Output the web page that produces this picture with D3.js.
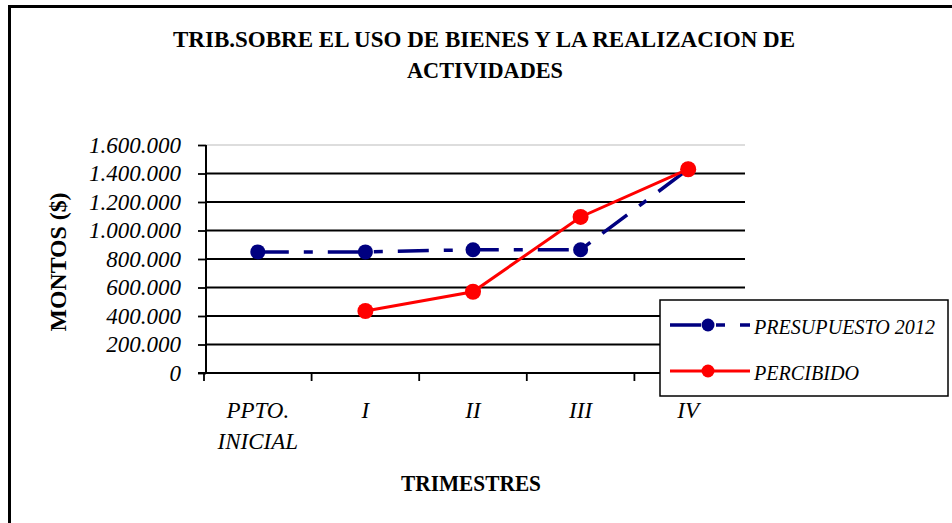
<!DOCTYPE html>
<html>
<head>
<meta charset="utf-8">
<style>
  body { margin: 0; background: #fff; }
  text { font-family: "Liberation Serif", "Times New Roman", serif; }
</style>
</head>
<body>
<svg width="952" height="523" id="chart"></svg>
<script src="https://cdn.jsdelivr.net/npm/d3@7"></script>
<script>
// data
var categories = ["PPTO. INICIAL", "I", "II", "III", "IV"];
var catLines = [["PPTO.", "INICIAL"], ["I"], ["II"], ["III"], ["IV"]];
var presupuesto = [850000, 850000, 865000, 865000, 1430000];
var percibido = [null, 435000, 570000, 1095000, 1430000];
var yTicks = [0, 200000, 400000, 600000, 800000, 1000000, 1200000, 1400000, 1600000];
var seriesNames = ["PRESUPUESTO 2012", "PERCIBIDO"];

var svg = d3.select("#chart");

// outer frame (right / bottom edges run off the picture)
svg.append("rect")
  .attr("x", 9.5).attr("y", 6.5)
  .attr("width", 960).attr("height", 540)
  .attr("fill", "none").attr("stroke", "#000").attr("stroke-width", 3);

var x = d3.scaleBand().domain(categories).range([204, 742]);
var y = d3.scaleLinear().domain([0, 1600000]).range([373, 145]);

// title
svg.append("text")
  .attr("x", 484).attr("y", 47)
  .attr("text-anchor", "middle")
  .style("font-size", "24px").style("font-weight", "bold")
  .attr("textLength", 622).attr("lengthAdjust", "spacingAndGlyphs")
  .text("TRIB.SOBRE EL USO DE BIENES Y LA REALIZACION DE");
svg.append("text")
  .attr("x", 485).attr("y", 78)
  .attr("text-anchor", "middle")
  .style("font-size", "24px").style("font-weight", "bold")
  .attr("textLength", 156).attr("lengthAdjust", "spacingAndGlyphs")
  .text("ACTIVIDADES");

// gridlines
svg.append("g")
  .selectAll("line")
  .data(yTicks)
  .enter().append("line")
  .attr("x1", 206).attr("x2", 745)
  .attr("y1", function(d) { return y(d); })
  .attr("y2", function(d) { return y(d); })
  .attr("stroke", function(d) { return d == 1600000 ? "#bbb" : "#000"; })
  .attr("stroke-width", function(d) { return d == 1600000 ? 1 : 1.8; });

// y axis
var yAxis = svg.append("g")
  .attr("transform", "translate(206,0)")
  .call(d3.axisLeft(y).tickValues(yTicks).tickSize(8).tickPadding(17)
    .tickFormat(function(d) { return d3.format(",")(d).replace(/,/g, "."); }));
yAxis.select(".domain").attr("stroke-width", 2).attr("d", "M0,145V373");
yAxis.selectAll(".tick line").attr("stroke-width", 1.8);
yAxis.selectAll("text")
  .style("font-family", "'Liberation Serif', serif")
  .style("font-size", "23px").style("font-style", "italic")
  .attr("fill", "#000");

// x axis
var xAxis = svg.append("g")
  .attr("transform", "translate(0,373)");
xAxis.append("line")
  .attr("x1", 198).attr("x2", 745).attr("y1", 0).attr("y2", 0)
  .attr("stroke", "#000").attr("stroke-width", 2);
xAxis.selectAll(".xt")
  .data(categories.concat(["end"]))
  .enter().append("line")
  .attr("class", "xt")
  .attr("x1", function(d, i) { return i < categories.length ? x(d) : x.range()[1]; })
  .attr("x2", function(d, i) { return i < categories.length ? x(d) : x.range()[1]; })
  .attr("y1", 0).attr("y2", 8)
  .attr("stroke", "#000").attr("stroke-width", 1.8);

var xl = svg.append("g").selectAll("text")
  .data(categories)
  .enter().append("text")
  .attr("x", function(d) { return x(d) + x.bandwidth() / 2; })
  .attr("y", 418)
  .attr("text-anchor", "middle")
  .style("font-size", "23px").style("font-style", "italic");
xl.each(function(d, i) {
  var t = d3.select(this);
  catLines[i].forEach(function(s, k) {
    t.append("tspan")
      .attr("x", x(d) + x.bandwidth() / 2)
      .attr("dy", k == 0 ? 0 : 31)
      .text(s);
  });
});

// axis titles
svg.append("text")
  .attr("x", 471).attr("y", 491)
  .attr("text-anchor", "middle")
  .style("font-size", "23px").style("font-weight", "bold")
  .attr("textLength", 140).attr("lengthAdjust", "spacingAndGlyphs")
  .text("TRIMESTRES");
svg.append("text")
  .attr("transform", "translate(66,262) rotate(-90)")
  .attr("text-anchor", "middle")
  .style("font-size", "23px").style("font-weight", "bold")
  .attr("textLength", 139).attr("lengthAdjust", "spacingAndGlyphs")
  .text("MONTOS ($)");

// series
var cx = function(i) { return x(categories[i]) + x.bandwidth() / 2; };
var line = d3.line()
  .defined(function(d) { return d != null; })
  .x(function(d, i) { return cx(i); })
  .y(function(d) { return y(d); });

svg.append("path")
  .datum(presupuesto)
  .attr("d", line)
  .attr("fill", "none")
  .attr("stroke", "#000080").attr("stroke-width", 3.5)
  .attr("stroke-dasharray", "31,15,9,15");
svg.append("path")
  .datum(percibido)
  .attr("d", line)
  .attr("fill", "none")
  .attr("stroke", "#ff0000").attr("stroke-width", 3);

svg.append("g").selectAll("circle")
  .data(presupuesto)
  .enter().append("circle")
  .attr("cx", function(d, i) { return cx(i); })
  .attr("cy", function(d) { return y(d); })
  .attr("r", 7.5).attr("fill", "#000080");
svg.append("g").selectAll("circle")
  .data(percibido.map(function(v, i) { return { v: v, i: i }; }).filter(function(d) { return d.v != null; }))
  .enter().append("circle")
  .attr("cx", function(d) { return cx(d.i); })
  .attr("cy", function(d) { return y(d.v); })
  .attr("r", 8).attr("fill", "#ff0000");

// legend
var legend = svg.append("g");
legend.append("rect")
  .attr("x", 660).attr("y", 300)
  .attr("width", 288).attr("height", 96)
  .attr("fill", "#fff").attr("stroke", "#000").attr("stroke-width", 1.5);

legend.append("path")
  .attr("d", "M670,325H750")
  .attr("stroke", "#000080").attr("stroke-width", 3.5)
  .attr("stroke-dasharray", "31,15,9,15");
legend.append("circle").attr("cx", 708).attr("cy", 325).attr("r", 6.5).attr("fill", "#000080");
legend.append("path")
  .attr("d", "M670,371H750")
  .attr("stroke", "#ff0000").attr("stroke-width", 3);
legend.append("circle").attr("cx", 708).attr("cy", 371).attr("r", 6.5).attr("fill", "#ff0000");

legend.append("text")
  .attr("x", 754).attr("y", 334)
  .style("font-size", "22px").style("font-style", "italic")
  .attr("textLength", 181).attr("lengthAdjust", "spacingAndGlyphs")
  .text(seriesNames[0]);
legend.append("text")
  .attr("x", 754).attr("y", 380)
  .style("font-size", "22px").style("font-style", "italic")
  .attr("textLength", 105).attr("lengthAdjust", "spacingAndGlyphs")
  .text(seriesNames[1]);
</script>
</body>
</html>
